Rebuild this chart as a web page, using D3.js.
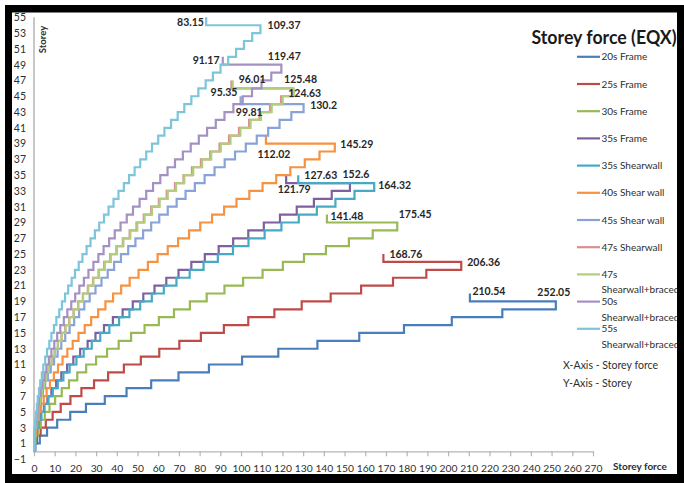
<!DOCTYPE html>
<html>
<head>
<meta charset="utf-8">
<script src="https://d3js.org/d3.v7.min.js"></script>
<style>
  html, body { margin: 0; padding: 0; background: #fff; }
  svg { display: block; font-family: Lato, "Noto Sans", sans-serif; }
</style>
</head>
<body>
<svg id="chart" width="684" height="483"></svg>
<script>
// Storey force per storey (bottom storey first) for each building model
const frame20 = [0.7, 2.8, 6.3, 11.2, 17.5, 25.1, 34.2, 44.7, 56.6, 69.8, 84.5, 100.5, 118.0, 136.9, 157.1, 178.7, 201.8, 226.2, 252.05, 210.54];
const frame25 = [0.4, 1.4, 3.2, 5.7, 9.0, 12.9, 17.6, 22.9, 29.0, 35.8, 43.4, 51.6, 60.5, 70.2, 80.6, 91.7, 103.5, 116.1, 129.3, 143.3, 158.0, 173.4, 189.5, 206.36, 168.76];
const frame30 = [0.2, 0.8, 1.9, 3.3, 5.2, 7.5, 10.2, 13.4, 16.9, 20.9, 25.2, 30.0, 35.3, 40.9, 46.9, 53.4, 60.3, 67.6, 75.3, 83.4, 92.0, 101.0, 110.4, 120.2, 130.4, 141.0, 152.1, 163.6, 175.45, 141.48];
const frame35 = [0.1, 0.5, 1.2, 2.1, 3.3, 4.8, 6.5, 8.4, 10.7, 13.2, 16.0, 19.0, 22.3, 25.9, 29.7, 33.8, 38.1, 42.8, 47.7, 52.8, 58.2, 63.9, 69.8, 76.0, 82.5, 89.2, 96.2, 103.5, 111.0, 118.8, 126.9, 135.2, 143.8, 152.6, 121.79];
const shearwall35 = [0.1, 0.6, 1.3, 2.3, 3.6, 5.1, 7.0, 9.1, 11.5, 14.2, 17.2, 20.5, 24.0, 27.9, 32.0, 36.4, 41.1, 46.1, 51.3, 56.9, 62.7, 68.8, 75.2, 81.9, 88.8, 96.1, 103.6, 111.4, 119.5, 127.9, 136.6, 145.6, 154.8, 164.32, 127.63];
const shearwall40 = [0.1, 0.4, 0.9, 1.5, 2.4, 3.4, 4.7, 6.1, 7.7, 9.6, 11.6, 13.8, 16.1, 18.7, 21.5, 24.5, 27.6, 31.0, 34.5, 38.2, 42.1, 46.2, 50.5, 55.0, 59.7, 64.6, 69.6, 74.9, 80.3, 86.0, 91.8, 97.8, 104.0, 110.4, 117.0, 123.8, 130.8, 137.9, 145.29, 112.02];
const shearwall45 = [0.1, 0.3, 0.6, 1.1, 1.7, 2.4, 3.3, 4.3, 5.4, 6.7, 8.1, 9.7, 11.4, 13.2, 15.1, 17.2, 19.4, 21.8, 24.3, 26.9, 29.7, 32.6, 35.6, 38.7, 42.0, 45.5, 49.0, 52.7, 56.6, 60.5, 64.6, 68.9, 73.2, 77.7, 82.4, 87.2, 92.1, 97.1, 102.3, 107.6, 113.1, 118.6, 124.3, 130.2, 99.81];
const shearwall47 = [0.1, 0.2, 0.5, 0.9, 1.5, 2.1, 2.9, 3.8, 4.8, 5.9, 7.1, 8.5, 10.0, 11.5, 13.3, 15.1, 17.0, 19.1, 21.3, 23.6, 26.0, 28.5, 31.2, 33.9, 36.8, 39.8, 42.9, 46.2, 49.5, 53.0, 56.6, 60.3, 64.1, 68.1, 72.2, 76.3, 80.6, 85.1, 89.6, 94.2, 99.0, 103.9, 108.9, 114.0, 119.3, 124.63, 95.35];
const braced47 = [0.1, 0.2, 0.5, 0.9, 1.5, 2.1, 2.9, 3.8, 4.8, 5.9, 7.2, 8.5, 10.0, 11.6, 13.3, 15.2, 17.1, 19.2, 21.4, 23.7, 26.2, 28.7, 31.4, 34.2, 37.1, 40.1, 43.2, 46.5, 49.9, 53.4, 57.0, 60.7, 64.6, 68.6, 72.6, 76.9, 81.2, 85.6, 90.2, 94.9, 99.7, 104.6, 109.6, 114.8, 120.1, 125.48, 96.01];
const braced50 = [0.05, 0.2, 0.4, 0.8, 1.2, 1.8, 2.4, 3.2, 4.0, 5.0, 6.0, 7.2, 8.4, 9.8, 11.2, 12.7, 14.4, 16.1, 18.0, 19.9, 21.9, 24.1, 26.3, 28.7, 31.1, 33.6, 36.3, 39.0, 41.8, 44.8, 47.8, 51.0, 54.2, 57.5, 61.0, 64.5, 68.1, 71.9, 75.7, 79.6, 83.6, 87.8, 92.0, 96.3, 100.8, 105.3, 109.9, 114.6, 119.47, 91.17];
const braced55 = [0.04, 0.2, 0.3, 0.6, 0.9, 1.4, 1.8, 2.4, 3.0, 3.8, 4.5, 5.4, 6.3, 7.4, 8.4, 9.6, 10.8, 12.2, 13.5, 15.0, 16.5, 18.2, 19.8, 21.6, 23.4, 25.4, 27.3, 29.4, 31.5, 33.8, 36.0, 38.4, 40.8, 43.4, 45.9, 48.6, 51.3, 54.2, 57.0, 60.0, 63.0, 66.2, 69.4, 72.6, 76.0, 79.4, 82.9, 86.4, 90.1, 93.8, 97.6, 101.4, 105.4, 109.37, 83.15];

const seriesNames = ["20s Frame", "25s Frame", "30s Frame", "35s Frame", "35s Shearwall", "40s Shear wall",
  "45s Shear wall", "47s Shearwall", "47s Shearwall+braced", "50s Shearwall+braced", "55s Shearwall+braced"];
const seriesValues = [frame20, frame25, frame30, frame35, shearwall35, shearwall40,
  shearwall45, shearwall47, braced47, braced50, braced55];

const xTickLabels = [0, 10, 20, 30, 40, 50, 60, 70, 80, 90, 100, 110, 120, 130, 140, 150, 160, 170, 180, 190, 200, 210, 220, 230, 240, 250, 260, 270];
const yTickLabels = [-1, 1, 3, 5, 7, 9, 11, 13, 15, 17, 19, 21, 23, 25, 27, 29, 31, 33, 35, 37, 39, 41, 43, 45, 47, 49, 51, 53, 55];

// styling
const seriesColors = ["#4A7EBB", "#BE4B48", "#98B954", "#7D60A0", "#46AAC5", "#F69240",
  "#87A3D8", "#D98F8D", "#B1CD7E", "#A491C4", "#7DC5DA"];
// label centre offsets (px) from the roof point and from the peak point
const labelOffsets = [
  [19, -2, -2, -9], [22.5, 0, 22.5, 0], [20, 2, 18, -8.5], [8, 14, 6, -9],
  [22.6, 0.6, 20.4, 2], [8, 19, 22, 0.4], [8.6, 16.5, 20, 1], [-7.4, 12, 12.7, 5],
  [19.3, -1, 6.8, -9], [-16.7, 4, 3, -8.7], [-15.6, 5.3, 23.6, -0.3]
];

const svg = d3.select("#chart");
const x = d3.scaleLinear().domain([0, 270]).range([34, 593]);
const y = d3.scaleLinear().domain([-1, 55]).range([459.2, 17.35]);
const axisGrey = "#b5b5b5";
const textCol = "#2e2e2e";

svg.append("rect").attr("width", 684).attr("height", 483).attr("fill", "#fff");

// x axis (crosses at storey 0)
const gx = svg.append("g").attr("transform", `translate(0,${y(0)})`)
  .call(d3.axisBottom(x).tickValues(xTickLabels).tickSize(5).tickSizeOuter(0).tickPadding(8));
gx.select(".domain").attr("stroke", axisGrey).attr("stroke-width", 1.3);
gx.selectAll(".tick line").attr("stroke", axisGrey).attr("stroke-width", 1.2);
gx.selectAll(".tick text").attr("fill", textCol).attr("font-size", 10.3).attr("font-family", "Lato, sans-serif");

// y axis
const gy = svg.append("g").attr("transform", `translate(${x(0)},0)`)
  .call(d3.axisLeft(y).tickValues(yTickLabels).tickSize(0).tickPadding(8));
gy.select(".domain").remove();
gy.append("line").attr("y1", y(55)).attr("y2", y(0) + 1.5).attr("stroke", axisGrey).attr("stroke-width", 1.5);
gy.selectAll(".tick text").attr("fill", textCol).attr("font-size", 10.5).attr("font-family", "Lato, sans-serif");

// axis titles
svg.append("text").attr("transform", `translate(${x(0) + 12},39.5) rotate(-90)`)
  .attr("text-anchor", "middle").attr("font-size", 9.5).attr("font-weight", 700).attr("fill", textCol).text("Storey");
svg.append("text").attr("x", 613).attr("y", 469.5).attr("font-size", 10).attr("font-weight", 700)
  .attr("fill", textCol).text("Storey force");

// stepped storey-force profiles
const line = d3.line().x(d => x(d[0])).y(d => y(d[1]));
seriesValues.forEach((vals, s) => {
  const pts = [];
  vals.forEach((f, i) => { pts.push([f, i]); pts.push([f, i + 1]); });
  svg.append("path").attr("d", line(pts)).attr("fill", "none")
    .attr("stroke", seriesColors[s]).attr("stroke-width", 2.2).attr("stroke-linejoin", "miter");
});

// value labels: roof storey and the storey below it
seriesValues.forEach((vals, s) => {
  const n = vals.length;
  const off = labelOffsets[s];
  const roof = [vals[n - 1], n];
  const peak = [vals[n - 2], n - 1];
  [[roof, off[0], off[1]], [peak, off[2], off[3]]].forEach(([p, dx, dy]) => {
    svg.append("text").attr("x", x(p[0]) + dx).attr("y", y(p[1]) + dy)
      .attr("dy", "0.35em").attr("text-anchor", "middle")
      .attr("font-size", 10.5).attr("font-weight", 700).attr("fill", "#262626")
      .text(p[0]);
  });
});

// chart title
svg.append("text").attr("x", 531.5).attr("y", 44).attr("font-size", 18).attr("font-weight", 700)
  .attr("fill", "#1a1a1a").attr("textLength", 145).attr("lengthAdjust", "spacingAndGlyphs")
  .text("Storey force (EQX)");

// legend
const legTop = 56.8, legStep = 27.2;
seriesNames.forEach((name, s) => {
  const ly = legTop + s * legStep;
  svg.append("line").attr("x1", 577).attr("x2", 600).attr("y1", ly).attr("y2", ly)
    .attr("stroke", seriesColors[s]).attr("stroke-width", 2.2);
  const parts = name.indexOf("+") > -1 ? name.split(" ") : [name];
  parts.forEach((t, k) => {
    svg.append("text").attr("x", 601.5).attr("y", ly + 3.5 + k * 15.5)
      .attr("font-size", 10).attr("fill", textCol).text(t);
  });
});

svg.append("text").attr("x", 563).attr("y", 369).attr("font-size", 11).attr("fill", textCol)
  .attr("textLength", 95).attr("lengthAdjust", "spacingAndGlyphs").text("X-Axis - Storey force");
svg.append("text").attr("x", 563).attr("y", 387).attr("font-size", 11).attr("fill", textCol)
  .attr("textLength", 69).attr("lengthAdjust", "spacingAndGlyphs").text("Y-Axis - Storey");

// black frame around the chart
svg.append("path")
  .attr("d", "M5,5H684V483H5Z M12,12.5V474H677V12.5Z")
  .attr("fill", "#000").attr("fill-rule", "evenodd");
</script>
</body>
</html>
